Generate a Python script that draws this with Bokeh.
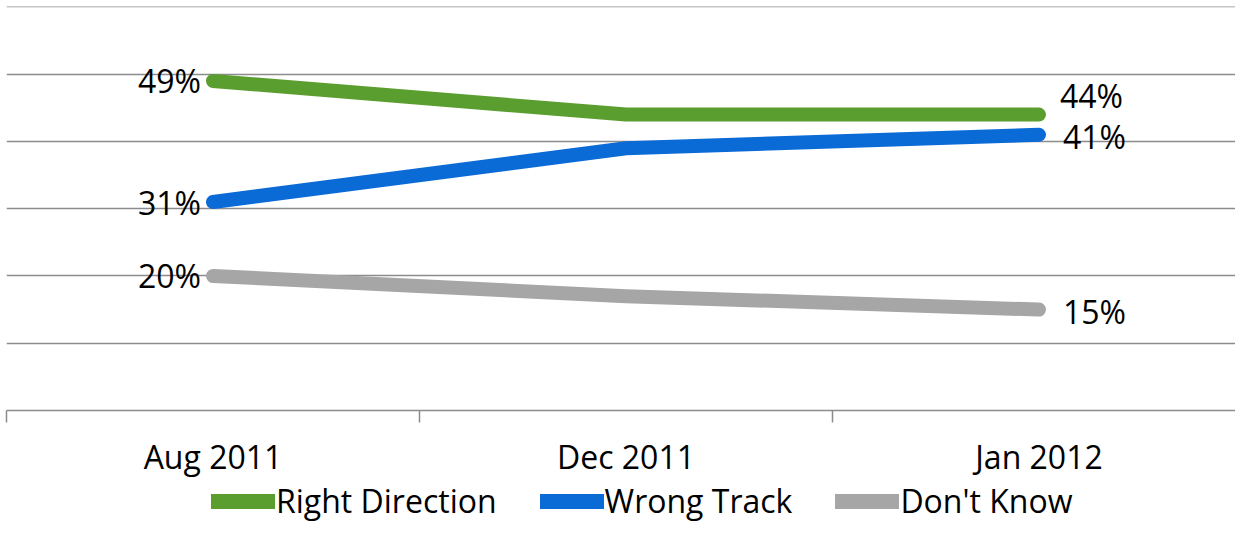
from bokeh.plotting import figure
from bokeh.models import ColumnDataSource, FixedTicker, Legend, LegendItem, Range1d
from bokeh.layouts import column
from bokeh.core.properties import value
from bokeh.embed import file_html
from bokeh.resources import INLINE

categories = ["Aug 2011", "Dec 2011", "Jan 2012"]
right_direction = [49, 44, 44]
wrong_track = [31, 39, 41]
dont_know = [20, 17, 15]
series_names = ["Right Direction", "Wrong Track", "Don't Know"]
colors = ["#5A9E2F", "#0A6AD6", "#A6A6A6"]
y_ticks = [0, 10, 20, 30, 40, 50, 60]

FONT = "Open Sans"
xs = [i + 0.5 for i in range(len(categories))]

W = 1235
H_MAIN, H_LEG = 480, 42
LEFT, TOP = 6, 6
cat_px = 1239 / 3.0
x_end = (W - LEFT) / cat_px

p = figure(width=W, height=H_MAIN, output_backend="svg", toolbar_location=None,
           x_range=Range1d(0, x_end), y_range=Range1d(0, 60.07),
           min_border_left=LEFT, min_border_right=0, min_border_top=TOP,
           min_border_bottom=0)
p.outline_line_color = None
p.yaxis.visible = False
p.ygrid.ticker = FixedTicker(ticks=y_ticks)
p.ygrid.grid_line_color = "#8C8C8C"
p.ygrid.grid_line_width = 1.5
p.xgrid.visible = False

xa = p.xaxis[0]
xa.ticker = FixedTicker(ticks=xs, minor_ticks=list(range(len(categories) + 1)))
xa.major_label_overrides = {x: c for x, c in zip(xs, categories)}
xa.major_tick_out = 0
xa.major_tick_in = 0
xa.minor_tick_out = 12
xa.minor_tick_in = 0
xa.minor_tick_line_color = "#8C8C8C"
xa.minor_tick_line_width = 1.5
xa.axis_line_color = "#8C8C8C"
xa.axis_line_width = 1.5
xa.major_label_text_font = FONT
xa.major_label_text_font_size = "32px"
xa.major_label_text_color = "#000000"
xa.major_label_standoff = 12

all_series = [right_direction, wrong_track, dont_know]
for name, vals, col in zip(series_names, all_series, colors):
    src = ColumnDataSource(dict(x=xs, y=vals))
    p.line("x", "y", source=src, line_color=col, line_width=14, line_cap="round", line_join="round")

    left = ColumnDataSource(dict(x=[xs[0]], y=[vals[0]], t=[f"{vals[0]}%"]))
    p.text("x", "y", text="t", source=left, text_font=value(FONT), text_font_size="32px",
           text_align="right", text_baseline="middle", x_offset=-12, text_color="#000000")

# end labels
end_offsets = [-19, 2, 2]
end_dx = [21, 24, 24]
for vals, dy, dx in zip(all_series, end_offsets, end_dx):
    src = ColumnDataSource(dict(x=[xs[-1]], y=[vals[-1]], t=[f"{vals[-1]}%"]))
    p.text("x", "y", text="t", source=src, text_font=value(FONT), text_font_size="32px",
           text_align="left", text_baseline="middle", x_offset=dx, y_offset=dy, text_color="#000000")

# legend strip below the chart (series drawn off-range there, only their legend glyphs show)
pl = figure(width=W, height=H_LEG, output_backend="svg", toolbar_location=None,
            x_range=Range1d(0, 1), y_range=Range1d(-1000, -999),
            min_border_left=0, min_border_right=0, min_border_top=0, min_border_bottom=0)
pl.outline_line_color = None
pl.axis.visible = False
pl.grid.visible = False
items = []
for name, vals, col in zip(series_names, all_series, colors):
    r = pl.line(x=xs, y=vals, line_color=col, line_width=15, line_cap="round")
    items.append(LegendItem(label=name, renderers=[r]))

legend = Legend(items=items, orientation="horizontal", location=(205, 0))
legend.label_text_font = FONT
legend.label_text_font_size = "32px"
legend.label_text_color = "#000000"
legend.glyph_width = 64
legend.glyph_height = 16
legend.label_standoff = 1
legend.spacing = 43
legend.padding = 0
legend.margin = 0
legend.border_line_color = None
legend.background_fill_alpha = 0
pl.add_layout(legend, "center")

layout = column(p, pl, spacing=0)
open("out.html", "w").write(file_html(layout, INLINE))
